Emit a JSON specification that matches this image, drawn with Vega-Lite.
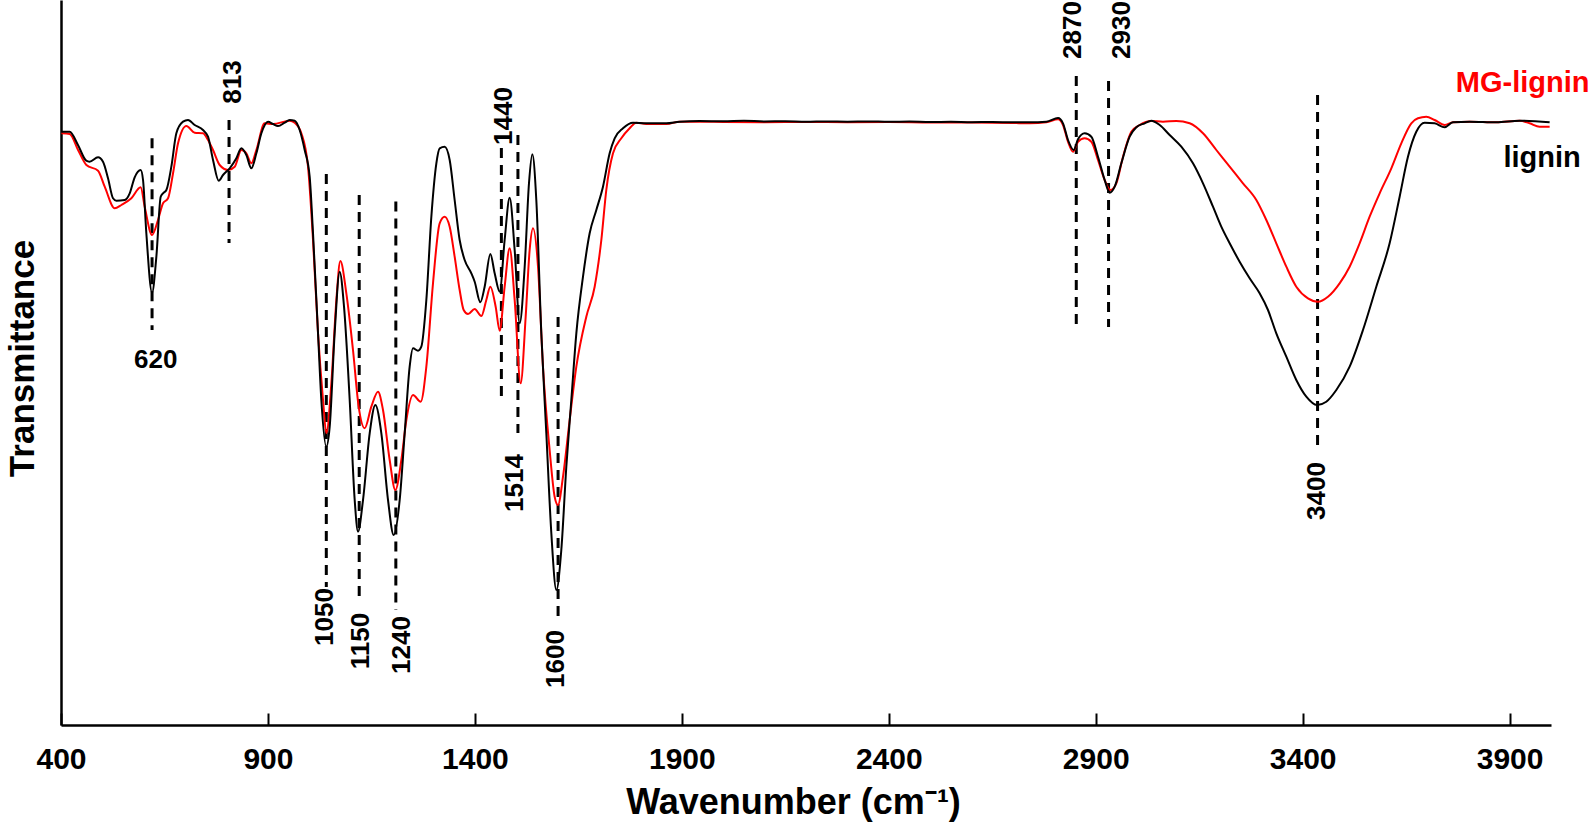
{
  "$schema": "https://vega.github.io/schema/vega-lite/v6.json",
  "width": 1490,
  "height": 725,
  "autosize": {"type": "none"},
  "padding": {"left": 61, "top": 0, "right": 43, "bottom": 103},
  "background": "white",
  "config": {
    "view": {"stroke": null},
    "font": "Liberation Sans, Arial, sans-serif",
    "text": {"font": "Liberation Sans, Arial, sans-serif"}
  },
  "datasets": {
    "lignin": [
      {"w":401,"t":593.3},{"w":421,"t":593.3},{"w":441,"t":580},{"w":461,"t":564.3},{"w":469,"t":563.3},{"w":489.5,"t":567.7},{"w":501.5,"t":563.3},{"w":513.6,"t":546.7},{"w":525.7,"t":526.7},{"w":533.8,"t":524.3},{"w":553.9,"t":525},{"w":566,"t":531.7},{"w":578,"t":547.7},{"w":592.5,"t":555},{"w":598.2,"t":545},{"w":606.2,"t":491.7},{"w":620,"t":432.3},{"w":630.4,"t":468.3},{"w":640.9,"t":528.3},{"w":646.5,"t":531.7},{"w":654.6,"t":535},{"w":666.6,"t":558.3},{"w":678.7,"t":591.7},{"w":694.8,"t":603.3},{"w":706.9,"t":605},{"w":723,"t":600},{"w":743.1,"t":595},{"w":755.2,"t":588.3},{"w":767.3,"t":565},{"w":781,"t":544.3},{"w":791.5,"t":550},{"w":807.6,"t":556.7},{"w":823.7,"t":566.7},{"w":835.8,"t":576.7},{"w":847.8,"t":570},{"w":859.9,"t":556.7},{"w":872,"t":571.7},{"w":884.1,"t":591.7},{"w":900.2,"t":603.3},{"w":912.3,"t":601},{"w":924.3,"t":599},{"w":940.4,"t":602.3},{"w":952.5,"t":605},{"w":964.6,"t":604.3},{"w":976.7,"t":595},{"w":988.8,"t":575},{"w":1000.8,"t":548.3},{"w":1008.9,"t":491.7},{"w":1021,"t":391.7},{"w":1029,"t":325},{"w":1041.1,"t":278.3},{"w":1049.2,"t":298.3},{"w":1061.2,"t":391.7},{"w":1073.3,"t":453.3},{"w":1083.8,"t":418.3},{"w":1097.5,"t":325},{"w":1109.6,"t":225},{"w":1117.6,"t":193.3},{"w":1129.7,"t":225},{"w":1145.8,"t":291.7},{"w":1159.5,"t":320},{"w":1174,"t":291.7},{"w":1190.1,"t":225},{"w":1203.8,"t":190},{"w":1218.3,"t":225},{"w":1230.4,"t":291.7},{"w":1242.4,"t":358.3},{"w":1250.5,"t":376.7},{"w":1262.6,"t":374.3},{"w":1270.6,"t":378.3},{"w":1282.7,"t":425},{"w":1294.8,"t":508.3},{"w":1306.9,"t":561.7},{"w":1314.9,"t":576.7},{"w":1327,"t":578.3},{"w":1339.1,"t":565},{"w":1351.1,"t":525},{"w":1363.2,"t":485},{"w":1375.3,"t":465},{"w":1391.4,"t":451.7},{"w":1399.5,"t":443.3},{"w":1413.1,"t":422.7},{"w":1423.6,"t":438.3},{"w":1437.3,"t":471},{"w":1447.8,"t":451.7},{"w":1459.9,"t":433.3},{"w":1471.9,"t":485},{"w":1484,"t":527.3},{"w":1496.1,"t":475},{"w":1508.2,"t":401.7},{"w":1520.3,"t":458.3},{"w":1530.7,"t":541.7},{"w":1538.8,"t":570.7},{"w":1548.4,"t":525},{"w":1560.5,"t":391.7},{"w":1572.6,"t":291.7},{"w":1584.7,"t":191.7},{"w":1596.8,"t":135},{"w":1608.8,"t":175},{"w":1620.9,"t":258.3},{"w":1633,"t":325},{"w":1645.1,"t":391.7},{"w":1661.2,"t":448.3},{"w":1677.3,"t":491.7},{"w":1693.4,"t":515},{"w":1709.5,"t":538.3},{"w":1725.6,"t":571.7},{"w":1737.7,"t":586.7},{"w":1757.8,"t":596.7},{"w":1782,"t":602.3},{"w":1814.2,"t":601.7},{"w":1862.5,"t":601.7},{"w":1894.7,"t":603.3},{"w":1943,"t":604},{"w":2000,"t":603.7},{"w":2050,"t":604.3},{"w":2100,"t":603.5},{"w":2150,"t":603.8},{"w":2200,"t":603.2},{"w":2250,"t":603.6},{"w":2300,"t":603.3},{"w":2350,"t":603.6},{"w":2400,"t":603.2},{"w":2450,"t":603.4},{"w":2500,"t":603},{"w":2550,"t":603.2},{"w":2600,"t":602.8},{"w":2650,"t":603},{"w":2700,"t":602.7},{"w":2740.4,"t":602.7},{"w":2780.7,"t":603.3},{"w":2808.9,"t":607},{"w":2820.9,"t":601.7},{"w":2833,"t":585},{"w":2846.7,"t":575},{"w":2857.2,"t":585.7},{"w":2873.3,"t":591.7},{"w":2889.4,"t":588.3},{"w":2905.5,"t":568.3},{"w":2921.6,"t":545},{"w":2933.7,"t":532.3},{"w":2945.8,"t":538.3},{"w":2961.9,"t":561.7},{"w":2982,"t":588.3},{"w":2998.1,"t":597.7},{"w":3018.2,"t":601.7},{"w":3034.3,"t":604.3},{"w":3054.5,"t":600},{"w":3078.6,"t":590},{"w":3106.8,"t":578.3},{"w":3135,"t":561.7},{"w":3159.2,"t":541.7},{"w":3183.3,"t":518.3},{"w":3203.4,"t":498.3},{"w":3223.6,"t":481.7},{"w":3247.7,"t":463.3},{"w":3271.9,"t":446.7},{"w":3296,"t":431.7},{"w":3316.2,"t":415},{"w":3336.3,"t":391.7},{"w":3360.5,"t":368.3},{"w":3384.6,"t":345},{"w":3408.8,"t":328.3},{"w":3434.6,"t":320},{"w":3457.1,"t":323.3},{"w":3481.3,"t":335},{"w":3513.5,"t":358.3},{"w":3545.7,"t":395},{"w":3577.9,"t":438.3},{"w":3610.1,"t":481.7},{"w":3634.3,"t":528.3},{"w":3654.4,"t":568.3},{"w":3674.5,"t":593.3},{"w":3694.7,"t":602.3},{"w":3718.8,"t":601.7},{"w":3743,"t":597.7},{"w":3763.1,"t":602.7},{"w":3803.4,"t":603.3},{"w":3867.8,"t":602.7},{"w":3924.2,"t":604.3},{"w":3996.7,"t":602.7}
    ],
    "mg": [
      {"w":401,"t":591.7},{"w":421,"t":591},{"w":441.2,"t":575},{"w":461.3,"t":560},{"w":489.5,"t":554.3},{"w":505.6,"t":538.3},{"w":529.8,"t":516.7},{"w":545.9,"t":520},{"w":570,"t":526.7},{"w":592.5,"t":537.7},{"w":602.2,"t":518.3},{"w":620,"t":490},{"w":634.4,"t":505},{"w":646.5,"t":521.7},{"w":658.6,"t":526.7},{"w":670.7,"t":551.7},{"w":682.8,"t":581.7},{"w":702.9,"t":599},{"w":723,"t":592.3},{"w":743.1,"t":591.7},{"w":755.2,"t":585},{"w":767.3,"t":575},{"w":783.4,"t":560},{"w":803.6,"t":555},{"w":819.7,"t":558.3},{"w":835.8,"t":575},{"w":847.8,"t":571.7},{"w":859.9,"t":561.7},{"w":872,"t":575},{"w":892.1,"t":601.7},{"w":912.3,"t":601},{"w":952.5,"t":604.3},{"w":964.6,"t":602.3},{"w":980.7,"t":591.7},{"w":996.8,"t":558.3},{"w":1008.9,"t":485},{"w":1021,"t":391.7},{"w":1033.1,"t":325},{"w":1041.1,"t":291.7},{"w":1053.2,"t":341.7},{"w":1065.3,"t":425},{"w":1074.9,"t":464},{"w":1089.4,"t":431.7},{"w":1105.5,"t":375},{"w":1119.2,"t":318.3},{"w":1133.7,"t":296.7},{"w":1149.8,"t":318.3},{"w":1165.9,"t":333.3},{"w":1178,"t":315},{"w":1194.1,"t":265},{"w":1207.8,"t":235},{"w":1222.3,"t":265},{"w":1234.4,"t":305},{"w":1250.5,"t":330},{"w":1269,"t":323.3},{"w":1282.7,"t":358.3},{"w":1298.8,"t":441.7},{"w":1314.9,"t":501.7},{"w":1327,"t":508.3},{"w":1339.1,"t":498.3},{"w":1351.1,"t":468.3},{"w":1363.2,"t":435},{"w":1372.9,"t":415},{"w":1383.4,"t":411},{"w":1399.5,"t":416},{"w":1415.6,"t":409},{"w":1427.6,"t":425},{"w":1437.3,"t":438.3},{"w":1450.2,"t":418.3},{"w":1459.9,"t":394.3},{"w":1471.9,"t":438.3},{"w":1484,"t":476.7},{"w":1496.1,"t":425},{"w":1510.6,"t":341.7},{"w":1522.7,"t":408.3},{"w":1532.3,"t":475},{"w":1540.4,"t":496.7},{"w":1552.5,"t":458.3},{"w":1564.5,"t":358.3},{"w":1580.6,"t":275},{"w":1592.7,"t":228.3},{"w":1600.8,"t":220},{"w":1612.9,"t":248.3},{"w":1629,"t":305},{"w":1645.1,"t":358.3},{"w":1669.2,"t":408.3},{"w":1689.4,"t":438.3},{"w":1705.5,"t":485},{"w":1717.5,"t":535},{"w":1733.7,"t":571.7},{"w":1753.8,"t":586.7},{"w":1773.9,"t":596.7},{"w":1790,"t":602.3},{"w":1814.2,"t":601},{"w":1862.5,"t":601},{"w":1894.7,"t":603.3},{"w":1943,"t":603.3},{"w":2000,"t":603},{"w":2100,"t":602.8},{"w":2200,"t":603},{"w":2300,"t":602.8},{"w":2400,"t":603},{"w":2500,"t":602.6},{"w":2600,"t":602.5},{"w":2700,"t":602},{"w":2740.4,"t":601.7},{"w":2780.7,"t":602.7},{"w":2808.9,"t":605.7},{"w":2820.9,"t":600},{"w":2833,"t":583.3},{"w":2845.1,"t":573.3},{"w":2857.2,"t":583.3},{"w":2873.3,"t":586.7},{"w":2889.4,"t":583.3},{"w":2905.5,"t":565},{"w":2921.6,"t":545},{"w":2935.3,"t":535},{"w":2949.8,"t":541.7},{"w":2965.9,"t":568.3},{"w":2986,"t":593.3},{"w":3006.1,"t":600},{"w":3034.3,"t":604},{"w":3062.5,"t":603.3},{"w":3094.7,"t":604},{"w":3127,"t":601.7},{"w":3159.2,"t":591.7},{"w":3191.4,"t":575},{"w":3223.6,"t":558.3},{"w":3255.8,"t":541.7},{"w":3288,"t":525},{"w":3312.2,"t":505},{"w":3336.3,"t":481.7},{"w":3360.5,"t":458.3},{"w":3384.6,"t":438.3},{"w":3412.8,"t":426.7},{"w":3437,"t":423.3},{"w":3461.1,"t":428.3},{"w":3489.3,"t":441.7},{"w":3513.5,"t":458.3},{"w":3537.6,"t":481.7},{"w":3561.8,"t":508.3},{"w":3586,"t":531.7},{"w":3614.2,"t":556.7},{"w":3638.3,"t":581.7},{"w":3662.5,"t":601.7},{"w":3678.6,"t":606.7},{"w":3698.7,"t":608.3},{"w":3718.8,"t":605},{"w":3743,"t":600},{"w":3763.1,"t":602.7},{"w":3803.4,"t":603.3},{"w":3867.8,"t":602.7},{"w":3924.2,"t":604.3},{"w":3948.4,"t":601.7},{"w":3972.5,"t":598.3},{"w":3996.7,"t":598.3}
    ],
    "rules": [
      {"w":620,"t1":586.7,"t2":395},
      {"w":806,"t1":605,"t2":482},
      {"w":1041,"t1":551,"t2":138},
      {"w":1120.5,"t1":530,"t2":123},
      {"w":1209,"t1":523.5,"t2":115},
      {"w":1464,"t1":577,"t2":323},
      {"w":1504,"t1":590,"t2":292},
      {"w":1601,"t1":408,"t2":108},
      {"w":2853,"t1":649,"t2":398},
      {"w":2931,"t1":644,"t2":398},
      {"w":3436,"t1":630,"t2":278}
    ],
    "labelsV": [
      {"w":815.8,"t":643,"label":"813"},
      {"w":1039,"t":108,"label":"1050"},
      {"w":1124,"t":84,"label":"1150"},
      {"w":1224,"t":80,"label":"1240"},
      {"w":1470,"t":609,"label":"1440"},
      {"w":1498,"t":242,"label":"1514"},
      {"w":1597,"t":66,"label":"1600"},
      {"w":2845,"t":695,"label":"2870"},
      {"w":2963,"t":695,"label":"2930"},
      {"w":3435,"t":234,"label":"3400"}
    ],
    "labelsH": [
      {"w":629,"t":365.5,"label":"620"}
    ],
    "legend": [
      {"w":3770,"t":633,"name":"MG-lignin"},
      {"w":3885,"t":558,"name":"lignin"}
    ]
  },
  "encoding": {
    "x": {
      "field": "w", "type": "quantitative",
      "scale": {"domain": [400, 4000], "nice": false, "zero": false},
      "axis": {
        "title": "Wavenumber (cm⁻¹)",
        "values": [400, 900, 1400, 1900, 2400, 2900, 3400, 3900],
        "format": "d",
        "grid": false,
        "tickSize": -12, "tickWidth": 2, "tickColor": "black",
        "domainColor": "black", "domainWidth": 2.5,
        "labelFont": "Liberation Sans, Arial, sans-serif", "labelFontWeight": "bold", "labelFontSize": 30, "labelColor": "black",
        "labelPadding": 31, "labelFlush": false, "labelOverlap": false, "labelBaseline": "top",
        "titleFont": "Liberation Sans, Arial, sans-serif", "titleFontWeight": "bold", "titleFontSize": 36, "titleColor": "black",
        "titleBaseline": "alphabetic", "titleAlign": "center", "titleX": 732, "titleY": 88
      }
    },
    "y": {
      "field": "t", "type": "quantitative",
      "scale": {"domain": [0, 725], "nice": false, "zero": false},
      "axis": {
        "title": "Transmittance",
        "ticks": false, "labels": false, "grid": false,
        "domainColor": "black", "domainWidth": 2.5,
        "titleFont": "Liberation Sans, Arial, sans-serif", "titleFontWeight": "bold", "titleFontSize": 35, "titleColor": "black",
        "titleAngle": 270, "titleAlign": "center", "titleBaseline": "middle", "titleX": -39, "titleY": 358
      }
    }
  },
  "layer": [
    {
      "data": {"name": "rules"},
      "mark": {"type": "rule", "color": "black", "strokeWidth": 3, "strokeDash": [10, 7]},
      "encoding": {"y": {"field": "t1", "type": "quantitative"}, "y2": {"field": "t2"}}
    },
    {
      "data": {"name": "mg"},
      "mark": {"type": "line", "color": "#ff0000", "strokeWidth": 2, "interpolate": "monotone"},
      "encoding": {}
    },
    {
      "data": {"name": "lignin"},
      "mark": {"type": "line", "color": "black", "strokeWidth": 2, "interpolate": "monotone"},
      "encoding": {}
    },
    {
      "data": {"name": "labelsV"},
      "mark": {"type": "text", "angle": 270, "align": "center", "baseline": "middle", "fontSize": 26, "fontWeight": "bold", "color": "black"},
      "encoding": {"text": {"field": "label"}}
    },
    {
      "data": {"name": "labelsH"},
      "mark": {"type": "text", "align": "center", "baseline": "middle", "fontSize": 26, "fontWeight": "bold", "color": "black"},
      "encoding": {"text": {"field": "label"}}
    },
    {
      "data": {"name": "legend"},
      "mark": {"type": "text", "align": "left", "baseline": "alphabetic", "fontSize": 29, "fontWeight": "bold"},
      "encoding": {
        "text": {"field": "name"},
        "color": {"field": "name", "type": "nominal", "scale": {"domain": ["MG-lignin", "lignin"], "range": ["#ff0000", "black"]}, "legend": null}
      }
    }
  ]
}
